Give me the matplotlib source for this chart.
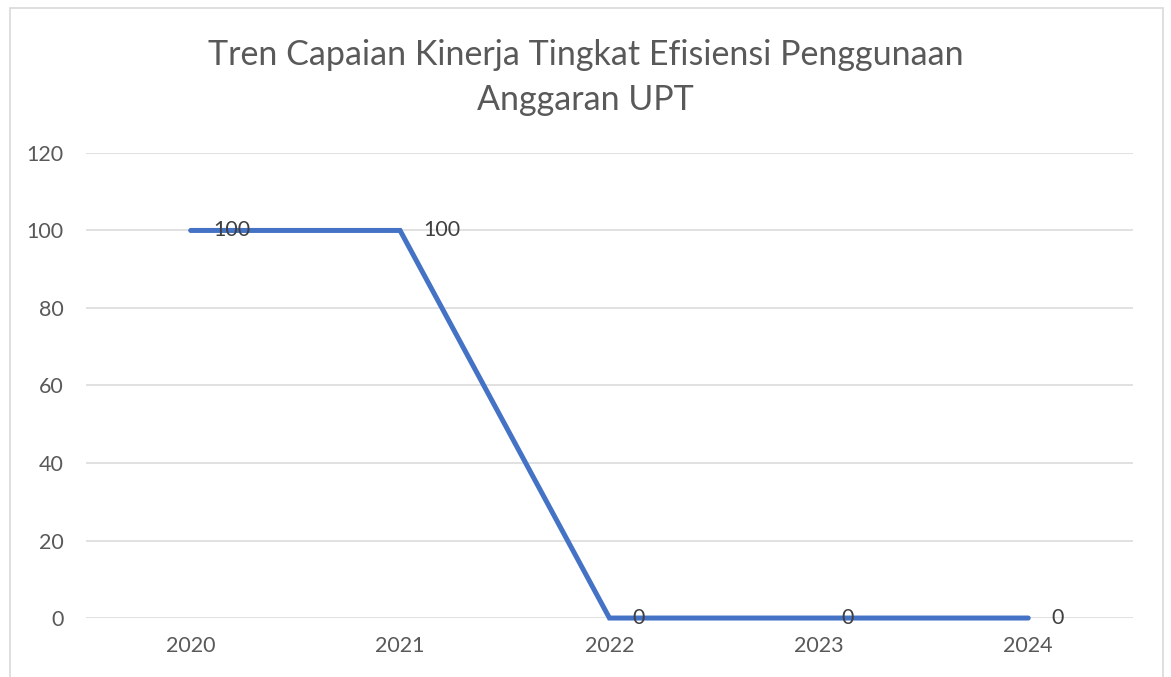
"""Line chart: Excel-style trend of UPT budget efficiency, with data labels."""
import matplotlib.pyplot as plt
from matplotlib.patches import Rectangle

years = ["2020", "2021", "2022", "2023", "2024"]
values = [100, 100, 0, 0, 0]
y_ticks = [0, 20, 40, 60, 80, 100, 120]

INK = "#595959"
GRID = "#D9D9D9"
LINE = "#4472C4"

plt.rcParams["font.family"] = ["Lato", "DejaVu Sans"]

fig = plt.figure(figsize=(11.71, 6.77), dpi=100)
ax = fig.add_axes([0.0734, 0.0871, 0.8941, 0.687])

# chart frame (bottom edge sits below the picture, as in the reference)
fig.patches.append(Rectangle((10 / 1171, -0.05), 1153 / 1171, 1.05 - 8 / 677,
                             transform=fig.transFigure, fill=False,
                             edgecolor=GRID, linewidth=1.2))

x = range(len(years))
ax.plot(x, values, color=LINE, linewidth=3.6, solid_capstyle="round",
        solid_joinstyle="miter", zorder=3, clip_on=False)

for xi, v in zip(x, values):
    ax.annotate(str(v), xy=(xi, v), xytext=(16.5, 0), textcoords="offset points",
                ha="left", va="center", fontsize=15.5, color="#404040", zorder=4)

ax.set_xlim(-0.5, len(years) - 0.5)
ax.set_ylim(0, 120)
ax.set_xticks(list(x))
ax.set_xticklabels(years)
ax.set_yticks(y_ticks)
ax.tick_params(axis="both", length=0, labelsize=15.5, labelcolor=INK)
ax.tick_params(axis="x", pad=13)
ax.tick_params(axis="y", pad=16)
ax.grid(axis="y", color=GRID, linewidth=1.1)
ax.set_axisbelow(True)
for spine in ax.spines.values():
    spine.set_visible(False)

fig.text(0.5, 1 - 55 / 677, "Tren Capaian Kinerja Tingkat Efisiensi Penggunaan",
         ha="center", va="center", fontsize=24.5, color=INK)
fig.text(0.5, 1 - 100 / 677, "Anggaran UPT",
         ha="center", va="center", fontsize=24.5, color=INK)

fig.savefig("out.png", dpi=100, facecolor="white")
